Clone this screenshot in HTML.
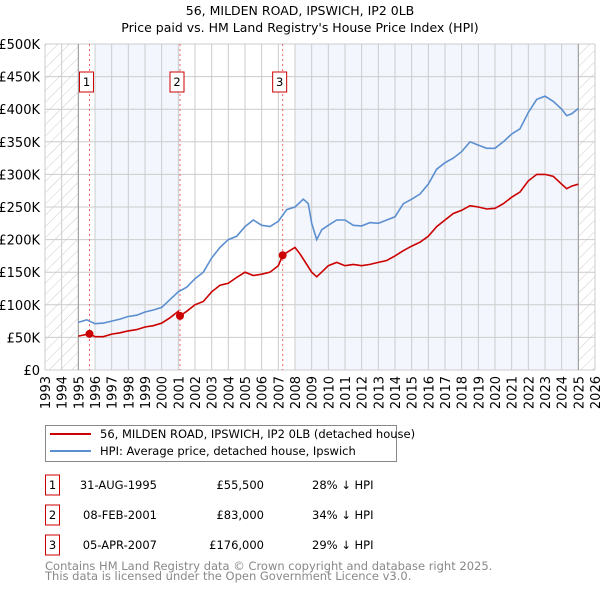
<!DOCTYPE html>
<html><head><meta charset="utf-8"><style>
body{margin:0;background:#fff;font-family:"DejaVu Sans","Liberation Sans",sans-serif;}
svg{display:block}
</style></head><body>
<svg id="c" width="600" height="590" xmlns="http://www.w3.org/2000/svg">
<defs><pattern id="hatch" width="8" height="8" patternUnits="userSpaceOnUse" patternTransform="rotate(45)"><line x1="0" y1="0" x2="0" y2="8" stroke="#ccc" stroke-width="1"/></pattern></defs>
<text x="300" y="15" text-anchor="middle" font-size="12.5">56, MILDEN ROAD, IPSWICH, IP2 0LB</text>
<text x="300" y="32" text-anchor="middle" font-size="12.5">Price paid vs. HM Land Registry's House Price Index (HPI)</text>
<g id="plot"></g>
<g>
<rect x="45.5" y="425.5" width="351" height="36" fill="#fff" stroke="#888"/>
<line x1="50" y1="434" x2="91" y2="434" stroke="#cc0000" stroke-width="2"/>
<text x="100" y="438" font-size="11.5">56, MILDEN ROAD, IPSWICH, IP2 0LB (detached house)</text>
<line x1="50" y1="451" x2="91" y2="451" stroke="#5b8fd0" stroke-width="2"/>
<text x="100" y="455" font-size="11.5">HPI: Average price, detached house, Ipswich</text>
</g>
<g id="tbl" font-size="11.5"></g>
<text x="45" y="570" font-size="11.5" fill="#888">Contains HM Land Registry data © Crown copyright and database right 2025.</text>
<text x="45" y="580" font-size="11.5" fill="#888">This data is licensed under the Open Government Licence v3.0.</text>
</svg>
<script>
const yTicks=[0,50,100,150,200,250,300,350,400,450,500];
const years=[1993,1994,1995,1996,1997,1998,1999,2000,2001,2002,2003,2004,2005,2006,2007,2008,2009,2010,2011,2012,2013,2014,2015,2016,2017,2018,2019,2020,2021,2022,2023,2024,2025,2026];
const hpiT=[1995,1995.5,1996,1996.5,1997,1997.5,1998,1998.5,1999,1999.5,2000,2000.5,2001,2001.5,2002,2002.5,2003,2003.5,2004,2004.5,2005,2005.5,2006,2006.5,2007,2007.5,2008,2008.5,2008.8,2009,2009.3,2009.6,2010,2010.5,2011,2011.5,2012,2012.5,2013,2013.5,2014,2014.5,2015,2015.5,2016,2016.5,2017,2017.5,2018,2018.5,2019,2019.5,2020,2020.5,2021,2021.5,2022,2022.5,2023,2023.5,2024,2024.3,2024.6,2025];
const hpiV=[73,77,71,72,75,78,82,84,89,92,96,108,120,127,140,150,172,188,200,205,220,230,222,220,228,246,250,262,255,225,200,215,222,230,230,222,221,226,225,230,235,255,262,270,285,308,318,325,335,350,345,340,340,350,362,370,395,415,420,412,400,390,393,401];
const ppT=[1995,1995.67,1996,1996.5,1997,1997.5,1998,1998.5,1999,1999.5,2000,2000.5,2001,2001.1,2001.5,2002,2002.5,2003,2003.5,2004,2004.5,2005,2005.5,2006,2006.5,2007,2007.26,2007.5,2008,2008.3,2009,2009.3,2009.8,2010,2010.5,2011,2011.5,2012,2012.5,2013,2013.5,2014,2014.5,2015,2015.5,2016,2016.5,2017,2017.5,2018,2018.5,2019,2019.5,2020,2020.5,2021,2021.5,2022,2022.5,2023,2023.5,2024,2024.3,2024.6,2025];
const ppV=[52,55.5,51,51,55,57,60,62,66,68,72,80,90,83,90,100,105,120,130,133,142,150,145,147,150,160,176,180,188,178,150,143,155,160,165,160,162,160,162,165,168,175,183,190,196,205,220,230,240,245,252,250,247,248,255,265,273,290,300,300,297,285,278,282,285];
const saleT=[1995.67,2001.1,2007.26];
const saleV=[55.5,83,176];
const saleLabel=["1","2","3"];
const saleDate=["31-AUG-1995","08-FEB-2001","05-APR-2007"];
const salePrice=["£55,500","£83,000","£176,000"];
const salePct=["28% ↓ HPI","34% ↓ HPI","29% ↓ HPI"];
const X0=45,X1=595,Y0=370,Y1=44;
const sx=t=>X0+(t-1993)/(2026-1993)*(X1-X0);
const sy=v=>Y0-v/500*(Y0-Y1);
const NS="http://www.w3.org/2000/svg";
const g=document.getElementById('plot');
function mk(tag,at,parent){const e=document.createElementNS(NS,tag);for(const k in at)e.setAttribute(k,at[k]);(parent||g).appendChild(e);return e;}
let e;
e=mk('rect',{x:sx(1996),y:Y1,width:sx(2001.1)-sx(1996),height:Y0-Y1,fill:'#f3f6fd'});


e=mk('rect',{x:sx(2008),y:Y1,width:sx(2025)-sx(2008),height:Y0-Y1,fill:'#f3f6fd'});


e=mk('rect',{x:sx(1993),y:Y1,width:sx(1995)-sx(1993),height:Y0-Y1,fill:'url(#hatch)'});


e=mk('rect',{x:sx(2025),y:Y1,width:sx(2026)-sx(2025),height:Y0-Y1,fill:'url(#hatch)'});


yTicks.forEach(v=>{
 e=mk('line',{x1:X0,x2:X1,y1:sy(v),y2:sy(v),stroke:'#ccc','stroke-width':1});
 
 
 e=mk('text',{x:40,y:sy(v)+5,'text-anchor':'end','font-size':13});
 e.textContent=v===0?'£0':'£'+v+'K';
 
 
});
years.forEach(y=>{
 e=mk('line',{x1:sx(y),x2:sx(y),y1:Y1,y2:Y0,stroke:'#ccc','stroke-width':1});
 
 
 e=mk('text',{x:0,y:0,'text-anchor':'end','font-size':13,transform:`translate(${sx(y)+5},376) rotate(-90)`});
 e.textContent=y;
 
 
});
e=mk('line',{x1:sx(1995),x2:sx(1995),y1:Y1,y2:Y0,stroke:'#999'});


e=mk('line',{x1:sx(2025),x2:sx(2025),y1:Y1,y2:Y0,stroke:'#999'});


saleT.forEach((t,i)=>{
 e=mk('line',{x1:sx(t),x2:sx(t),y1:Y1,y2:Y0,stroke:'#f06060','stroke-dasharray':'2,3'});
 
 
 e=mk('rect',{x:sx(t)-10,y:72,width:14,height:20,fill:'#fff',stroke:'#cc0000'});
 
 
 e=mk('text',{x:sx(t)-3,y:86,'text-anchor':'middle','font-size':11.5});
 e.textContent=saleLabel[i];
 
 
});
e=mk('path',{d:hpiT.map((t,i)=>(i?'L':'M')+sx(t).toFixed(1)+','+sy(hpiV[i]).toFixed(1)).join(''),fill:'none',stroke:'#5b8fd0','stroke-width':1.6});


e=mk('path',{d:ppT.map((t,i)=>(i?'L':'M')+sx(t).toFixed(1)+','+sy(ppV[i]).toFixed(1)).join(''),fill:'none',stroke:'#cc0000','stroke-width':1.6});


saleT.forEach((t,i)=>{
 e=mk('circle',{cx:sx(t),cy:sy(saleV[i]),r:4,fill:'#cc0000'});
 
 
});
const tb=document.getElementById('tbl');
saleT.forEach((t,i)=>{
 const y=485+i*30;
 e=mk('rect',{x:45.5,y:y-10,width:14,height:20,fill:'#fff',stroke:'#cc0000'},tb);
 
 
 e=mk('text',{x:52.5,y:y+4,'text-anchor':'middle'},tb);e.textContent=saleLabel[i];
 
 
 e=mk('text',{x:157,y:y+4,'text-anchor':'end'},tb);e.textContent=saleDate[i];
 
 
 e=mk('text',{x:264,y:y+4,'text-anchor':'end'},tb);e.textContent=salePrice[i];
 
 
 e=mk('text',{x:312,y:y+4},tb);e.textContent=salePct[i];
 
 
});
</script>
</body></html>
